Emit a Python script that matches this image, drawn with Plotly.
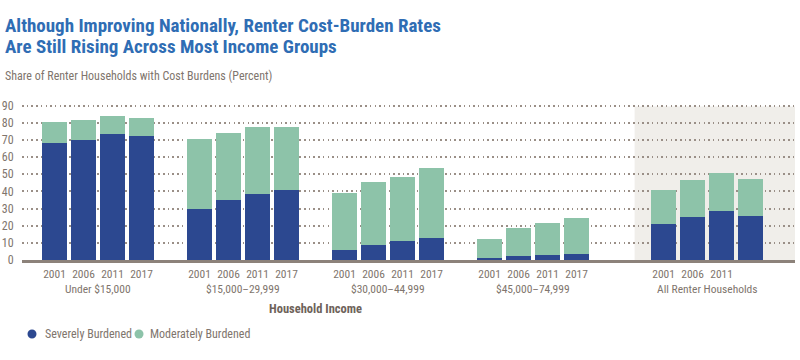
import plotly.graph_objects as go

# ---------------- data ----------------
groups = ["Under $15,000", "$15,000–29,999", "$30,000–44,999", "$45,000–74,999", "All Renter Households"]
years = ["2001", "2006", "2011", "2017"]
# tick labels shown under each bar (the last group's 2017 label is absent in the original)
tick_labels = [
    ["2001", "2006", "2011", "2017"],
    ["2001", "2006", "2011", "2017"],
    ["2001", "2006", "2011", "2017"],
    ["2001", "2006", "2011", "2017"],
    ["2001", "2006", "2011", ""],
]
series_names = ["Severely Burdened", "Moderately Burdened"]
severe = [
    [68.5, 69.8, 73.5, 72.5],
    [30.0, 35.0, 38.5, 40.6],
    [5.8, 9.0, 10.8, 12.9],
    [1.3, 2.1, 2.7, 3.3],
    [20.8, 24.8, 28.5, 25.4],
]
moderate = [
    [11.9, 11.9, 10.3, 10.6],
    [40.8, 39.2, 38.8, 37.1],
    [33.0, 36.4, 37.9, 40.6],
    [11.2, 16.4, 19.0, 21.3],
    [19.8, 21.7, 22.3, 22.1],
]
y_ticks = [0, 10, 20, 30, 40, 50, 60, 70, 80, 90]

# ---------------- styling ----------------
W, H = 800, 360
ML, MR, MT, MB = 22, 5, 104, 100
PLOT_H = H - MT - MB
C_SEV = "#2c4890"
C_MOD = "#8dc3a9"
C_TXT = "#80756d"
C_GRID = "#9a8f87"
C_TITLE = "#2f6db4"
FONT = "Roboto Condensed, DejaVu Sans Condensed, sans-serif"

# slot positions: each group takes its bars plus a gap slot (an extra slot before the last group)
positions = []
slot = 0
for gi, g in enumerate(groups):
    if gi == len(groups) - 1:
        slot += 1
    positions.append([slot + i for i in range(len(years))])
    slot += len(years) + 1

xs = [p for grp in positions for p in grp]
sev_vals = [v for grp in severe for v in grp]
mod_vals = [v for grp in moderate for v in grp]
tick_text = [t for grp in tick_labels for t in grp]

fig = go.Figure()
fig.add_trace(go.Bar(x=xs, y=sev_vals, name=series_names[0], marker=dict(color=C_SEV, line=dict(width=0)),
                     width=0.86, showlegend=False))
fig.add_trace(go.Bar(x=xs, y=mod_vals, name=series_names[1], marker=dict(color=C_MOD, line=dict(width=0)),
                     width=0.86, showlegend=False))

x_lo, x_hi = -1.12, 25.53


def py(pix):
    """pixel y (from top of page) -> paper coordinate"""
    return (H - MB - pix) / PLOT_H


def px(pix):
    return (pix - ML) / (W - ML - MR)


annotations = []
# titles
for line, ypix in [("Although Improving Nationally, Renter Cost-Burden Rates", 25),
                   ("Are Still Rising Across Most Income Groups", 46)]:
    annotations.append(dict(text=line, x=px(3), y=py(ypix), xref="paper", yref="paper",
                            xanchor="left", yanchor="middle", showarrow=False,
                            font=dict(family=FONT, size=19, color=C_TITLE, weight="bold")))
annotations.append(dict(text="Share of Renter Households with Cost Burdens (Percent)", x=px(3), y=py(76),
                        xref="paper", yref="paper", xanchor="left", yanchor="middle", showarrow=False,
                        font=dict(family=FONT, size=12, color=C_TXT)))
# group labels
for g, pos in zip(groups, positions):
    annotations.append(dict(text=g, x=(pos[0] + pos[-1]) / 2, y=py(289), xref="x", yref="paper",
                            xanchor="center", yanchor="middle", showarrow=False,
                            font=dict(family=FONT, size=11.5, color=C_TXT)))
# axis title
annotations.append(dict(text="Household Income", x=(positions[0][0] + positions[3][-1]) / 2, y=py(308),
                        xref="x", yref="paper", xanchor="center", yanchor="middle", showarrow=False,
                        font=dict(family=FONT, size=12.5, color="#6e625a", weight="bold")))
# legend (circle + label)
shapes = []
leg_items = [(series_names[0], C_SEV, 32, 43), (series_names[1], C_MOD, 139, 148)]
for name, col, cx, tx in leg_items:
    shapes.append(dict(type="circle", xref="paper", yref="paper", x0=px(cx - 4.5), x1=px(cx + 4.5),
                       y0=py(334 + 4.5), y1=py(334 - 4.5), fillcolor=col, line=dict(width=0)))
    annotations.append(dict(text=name, x=px(tx), y=py(334), xref="paper", yref="paper", xanchor="left",
                            yanchor="middle", showarrow=False, font=dict(family=FONT, size=12, color=C_TXT)))

# shaded background for the all-households group
shade_x0 = (positions[3][-1] + positions[4][0]) / 2 + 0.5
shapes.append(dict(type="rect", xref="x", yref="y", x0=shade_x0, x1=x_hi, y0=0, y1=89.6,
                   fillcolor="#f0eeea", line=dict(width=0), layer="below"))

fig.update_layout(
    width=W, height=H, margin=dict(l=ML, r=MR, t=MT, b=MB),
    barmode="stack", bargap=0,
    plot_bgcolor="white", paper_bgcolor="white",
    font=dict(family=FONT, color=C_TXT, size=12),
    annotations=annotations, shapes=shapes, showlegend=False,
    xaxis=dict(range=[x_lo, x_hi], tickmode="array", tickvals=xs, ticktext=tick_text, tickangle=0,
               showgrid=False, zeroline=False, showline=True, linecolor="#8c827a", linewidth=2.5,
               ticks="outside", ticklen=1, tickcolor="rgba(0,0,0,0)", automargin=False,
               tickfont=dict(family=FONT, size=11.5, color=C_TXT)),
    yaxis=dict(range=[0, 91], tickmode="array", tickvals=y_ticks, showgrid=True, gridcolor=C_GRID,
               gridwidth=1.5, griddash="1.5px,3.2px", zeroline=False, showline=False, automargin=False,
               ticks="outside", ticklen=5, tickcolor="rgba(0,0,0,0)",
               tickfont=dict(family=FONT, size=12, color=C_TXT)),
)

fig.write_html("out.html", config={"displayModeBar": False},
               post_script="document.body.style.margin='0';document.body.style.padding='0';")
